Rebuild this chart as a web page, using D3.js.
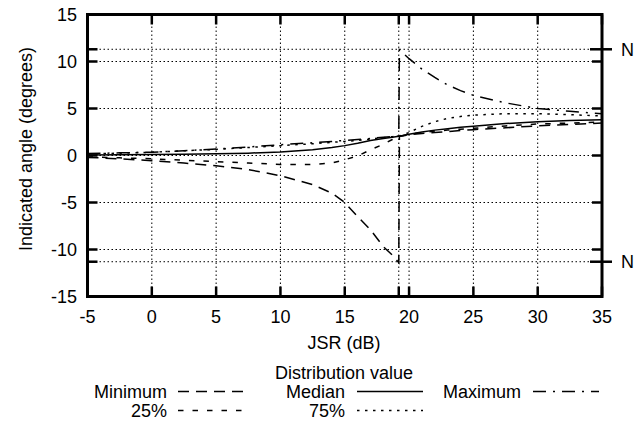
<!DOCTYPE html>
<html>
<head>
<meta charset="utf-8">
<script src="https://cdn.jsdelivr.net/npm/d3@7"></script>
<style>
  body { margin: 0; background: #fff; }
  text { font-family: "Liberation Sans", Arial, sans-serif; font-size: 18px; fill: #000; }
</style>
</head>
<body>
<div id="chart"></div>
<script>
// data
const jsr = [-5, -2.5, 0, 2.5, 5, 7.5, 10, 12.5, 14, 15, 16, 17, 18, 18.7, 19.2, 19.25, 20, 21, 22, 23, 24, 25, 27.5, 30, 32.5, 35];
const minimum = [-0.2, -0.35, -0.55, -0.8, -1.1, -1.5, -2.15, -3.1, -4.0, -5.0, -6.5, -7.9, -9.7, -10.6, -11.4, 2.05, 2.2, 2.35, 2.45, 2.55, 2.65, 2.75, 2.95, 3.15, 3.3, 3.45];
const pct25 = [-0.15, -0.25, -0.35, -0.5, -0.65, -0.8, -0.95, -0.95, -0.8, -0.45, -0.05, 0.6, 1.2, 1.7, 2.05, 2.05, 2.25, 2.45, 2.6, 2.7, 2.8, 2.9, 3.15, 3.35, 3.45, 3.55];
const median = [0.05, 0.08, 0.1, 0.13, 0.18, 0.25, 0.38, 0.6, 0.85, 1.05, 1.3, 1.6, 1.8, 1.95, 2.05, 2.05, 2.25, 2.5, 2.7, 2.85, 3.0, 3.1, 3.4, 3.6, 3.72, 3.8];
const pct75 = [0.15, 0.25, 0.35, 0.5, 0.65, 0.85, 1.05, 1.25, 1.4, 1.5, 1.6, 1.75, 1.9, 2.0, 2.05, 2.05, 2.45, 3.1, 3.6, 3.95, 4.15, 4.3, 4.45, 4.45, 4.35, 4.2];
const maximum = [0.2, 0.28, 0.35, 0.5, 0.7, 0.9, 1.15, 1.35, 1.5, 1.6, 1.7, 1.8, 1.95, 2.0, 2.05, 11.25, 10.3, 9.2, 8.3, 7.5, 6.9, 6.4, 5.6, 5.0, 4.7, 4.45];

const xTicks = [-5, 0, 5, 10, 15, 20, 25, 30, 35];
const yTicks = [-15, -10, -5, 0, 5, 10, 15];
const xExtra = [19.2];
const nLevels = [11.3, -11.3];

const seriesNames = ['Minimum', '25%', 'Median', '75%', 'Maximum'];
const seriesValues = [minimum, pct25, median, pct75, maximum];
const dashes = ['11,7', '5.5,9', null, '2.5,5.5', '13,7,2,7'];

const width = 634, height = 423;
const plot = { left: 87.5, right: 602, top: 14.5, bottom: 296.5 };

const svg = d3.select('#chart').append('svg')
  .attr('width', width)
  .attr('height', height);

svg.append('rect').attr('width', width).attr('height', height).attr('fill', '#fff');

const x = d3.scaleLinear().domain([-5, 35]).range([plot.left, plot.right]);
const y = d3.scaleLinear().domain([-15, 15]).range([plot.bottom, plot.top]);

// grid
const grid = svg.append('g')
  .attr('stroke', '#000')
  .attr('stroke-width', 1)
  .attr('stroke-dasharray', '1.5,2.5');

grid.selectAll('.gx')
  .data(xTicks.slice(1, -1).concat(xExtra))
  .join('line')
  .attr('x1', d => x(d)).attr('x2', d => x(d))
  .attr('y1', plot.top).attr('y2', plot.bottom);

grid.selectAll('.gy')
  .data(yTicks.slice(1, -1).concat(nLevels))
  .join('line')
  .attr('y1', d => y(d)).attr('y2', d => y(d))
  .attr('x1', plot.left).attr('x2', plot.right);

// ticks (inward on all four sides, gnuplot style)
const tickLen = 10;
const ticks = svg.append('g').attr('stroke', '#000').attr('stroke-width', 2.5);
const allX = xTicks.concat(xExtra);
const allY = yTicks.concat(nLevels);

ticks.selectAll('.tb').data(allX).join('line')
  .attr('x1', d => x(d)).attr('x2', d => x(d))
  .attr('y1', plot.bottom).attr('y2', plot.bottom - tickLen);
ticks.selectAll('.tt').data(allX).join('line')
  .attr('x1', d => x(d)).attr('x2', d => x(d))
  .attr('y1', plot.top).attr('y2', plot.top + tickLen);
ticks.selectAll('.tl').data(allY).join('line')
  .attr('y1', d => y(d)).attr('y2', d => y(d))
  .attr('x1', plot.left).attr('x2', plot.left + tickLen);
ticks.selectAll('.tr').data(yTicks).join('line')
  .attr('y1', d => y(d)).attr('y2', d => y(d))
  .attr('x1', plot.right).attr('x2', plot.right - tickLen);
// N marks cross the right border
ticks.selectAll('.tn').data(nLevels).join('line')
  .attr('y1', d => y(d)).attr('y2', d => y(d))
  .attr('x1', plot.right - tickLen - 2).attr('x2', plot.right + tickLen);

// curves
const line = d3.line()
  .x((d, i) => x(jsr[i]))
  .y(d => y(d));

svg.append('g').selectAll('path')
  .data(seriesValues)
  .join('path')
  .attr('d', d => line(d))
  .attr('fill', 'none')
  .attr('stroke', '#000')
  .attr('stroke-width', 1.5)
  .attr('stroke-dasharray', (d, i) => dashes[i]);

// border
svg.append('rect')
  .attr('x', plot.left).attr('y', plot.top)
  .attr('width', plot.right - plot.left)
  .attr('height', plot.bottom - plot.top)
  .attr('fill', 'none')
  .attr('stroke', '#000')
  .attr('stroke-width', 3);

// tick labels
svg.append('g').selectAll('text')
  .data(xTicks)
  .join('text')
  .attr('x', d => x(d))
  .attr('y', 323)
  .attr('text-anchor', 'middle')
  .text(d => d);

svg.append('g').selectAll('text')
  .data(yTicks)
  .join('text')
  .attr('x', 77)
  .attr('y', d => y(d) + 6.5)
  .attr('text-anchor', 'end')
  .text(d => d);

svg.append('g').selectAll('text')
  .data(nLevels)
  .join('text')
  .attr('x', 621)
  .attr('y', d => y(d) + 6.5)
  .text('N');

// axis titles
svg.append('text')
  .attr('x', 344).attr('y', 349)
  .attr('text-anchor', 'middle')
  .text('JSR (dB)');

svg.append('text')
  .attr('transform', 'translate(32,149) rotate(-90)')
  .attr('text-anchor', 'middle')
  .text('Indicated angle (degrees)');

// legend
const legend = svg.append('g');
legend.append('text')
  .attr('x', 344).attr('y', 379)
  .attr('text-anchor', 'middle')
  .text('Distribution value');

// column/row slot of each series in the legend
const legendCol = [0, 0, 1, 1, 2];
const legendRow = [0, 1, 0, 1, 0];
const colTextEnd = [167, 345, 521];
const colLineStart = [178, 357, 533];
const sampleLen = 66;
const rowBase = [398, 417];

const items = legend.selectAll('.item')
  .data(seriesNames)
  .join('g');

items.append('text')
  .attr('x', (d, i) => colTextEnd[legendCol[i]])
  .attr('y', (d, i) => rowBase[legendRow[i]])
  .attr('text-anchor', 'end')
  .text(d => d);

items.append('line')
  .attr('x1', (d, i) => colLineStart[legendCol[i]])
  .attr('x2', (d, i) => colLineStart[legendCol[i]] + sampleLen)
  .attr('y1', (d, i) => rowBase[legendRow[i]] - 6.5)
  .attr('y2', (d, i) => rowBase[legendRow[i]] - 6.5)
  .attr('stroke', '#000')
  .attr('stroke-width', 1.5)
  .attr('stroke-dasharray', (d, i) => dashes[i]);
</script>
</body>
</html>
